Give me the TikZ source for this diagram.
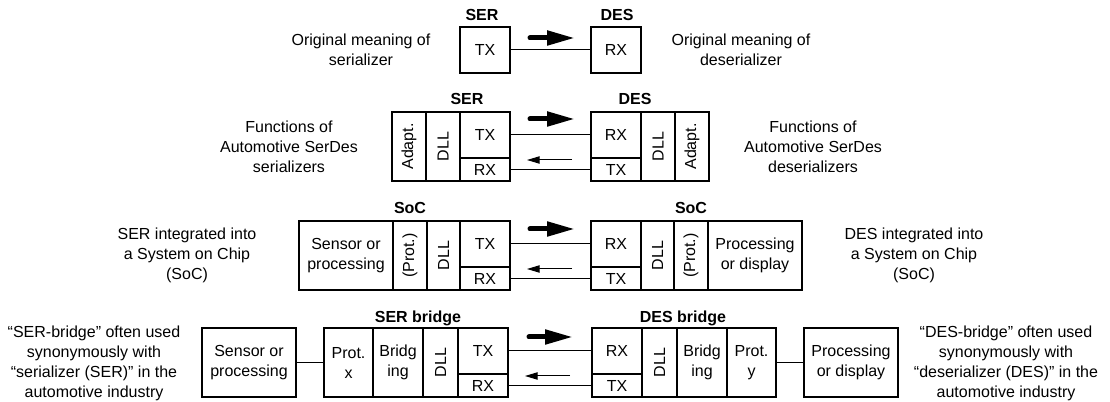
\documentclass[tikz,border=0pt]{standalone}
\usepackage{fontspec}
\setmainfont{Liberation Sans}
\usepackage{tikz}
\usetikzlibrary{arrows.meta, positioning, calc}
\newlength{\pxu}
\setlength{\pxu}{0.75pt}
\newcommand{\diagfont}{\fontsize{12}{15}\selectfont}
\tikzset{
  cell/.style={rectangle, draw=black, line width=1.5pt, inner sep=0pt,
    outer sep=0pt, align=center, font=\diagfont},
  tall/.style={cell, minimum height=69\pxu},
  upper/.style={cell, minimum width=50\pxu, minimum height=46\pxu},
  lower/.style={cell, minimum width=50\pxu, minimum height=23\pxu},
  tag/.style={font=\diagfont\bfseries, inner sep=0pt, text depth=0pt},
  note/.style={align=center, font=\diagfont, inner sep=0pt},
  link/.style={line width=0.75pt, color=black},
  bigarrow/.style={-{Triangle[length=21pt, width=10.5pt]}, line width=3.75pt, line cap=round},
  smallarrow/.style={-{Triangle[length=9.5pt, width=5.5pt]}, line width=0.75pt}
}
\begin{document}
\begin{tikzpicture}[x=\pxu, y=-\pxu]
  \useasboundingbox (0,0) rectangle (1110,402);

  % Row 1: original meaning
  \node[upper, anchor=north west] (tx1) at (460,27) {TX};
  \node[upper, anchor=north west] (rx1) at (591,27) {RX};
  \node[tag] (ser1) at (482,15) {SER};
  \node[tag] (des1) at (617,15) {DES};
  \draw[link] (tx1.east) -- (rx1.west);
  \draw[bigarrow] ($(tx1.north east)+(20,11)$) -- ($(rx1.north west)+(-16,11)$);
  \node[note] (txt1a) at (361,50) {Original meaning of\\serializer};
  \node[note] (txt1b) at (741,50) {Original meaning of\\deserializer};

  % Row 2: automotive SerDes functions
  \node[tall, minimum width=34\pxu, anchor=north west] (adapt2a) at (392,112) {\rotatebox{90}{Adapt.}};
  \node[tall, minimum width=34\pxu, right=0pt of adapt2a] (dll2a) {\rotatebox{90}{DLL}};
  \node[upper, anchor=north west] (tx2a) at (dll2a.north east) {TX};
  \node[lower, below=0pt of tx2a] (rx2a) {RX};
  \node[upper, anchor=north west] (rx2b) at (591,112) {RX};
  \node[lower, below=0pt of rx2b] (tx2b) {TX};
  \node[tall, minimum width=34\pxu, anchor=north west] (dll2b) at (rx2b.north east) {\rotatebox{90}{DLL}};
  \node[tall, minimum width=34\pxu, right=0pt of dll2b] (adapt2b) {\rotatebox{90}{Adapt.}};
  \node[tag] (ser2) at (467,99) {SER};
  \node[tag] (des2) at (635,99) {DES};
  \draw[link] (tx2a.east) -- (rx2b.west);
  \draw[link] (rx2a.east) -- (tx2b.west);
  \draw[bigarrow] ($(tx2a.north east)+(20,7)$) -- ($(rx2b.north west)+(-16,7)$);
  \draw[smallarrow] ($(rx2a.north east)+(62,2)$) -- ($(rx2a.north east)+(17,2)$);
  \node[note] (txt2a) at (289,147) {Functions of\\Automotive SerDes\\serializers};
  \node[note] (txt2b) at (813,147) {Functions of\\Automotive SerDes\\deserializers};

  % Row 3: integrated into SoC
  \node[tall, minimum width=94\pxu, anchor=north west] (sensor3) at (299,221) {Sensor or\\processing};
  \node[tall, minimum width=34\pxu, right=0pt of sensor3] (prot3a) {\rotatebox{90}{(Prot.)}};
  \node[tall, minimum width=33\pxu, right=0pt of prot3a] (dll3a) {\rotatebox{90}{DLL}};
  \node[upper, anchor=north west] (tx3a) at (dll3a.north east) {TX};
  \node[lower, below=0pt of tx3a] (rx3a) {RX};
  \node[upper, anchor=north west] (rx3b) at (591,221) {RX};
  \node[lower, below=0pt of rx3b] (tx3b) {TX};
  \node[tall, minimum width=33\pxu, anchor=north west] (dll3b) at (rx3b.north east) {\rotatebox{90}{DLL}};
  \node[tall, minimum width=34\pxu, right=0pt of dll3b] (prot3b) {\rotatebox{90}{(Prot.)}};
  \node[tall, minimum width=94\pxu, right=0pt of prot3b] (proc3) {Processing\\or display};
  \node[tag] (soc3a) at (410,208) {SoC};
  \node[tag] (soc3b) at (691,208) {SoC};
  \draw[link] (tx3a.east) -- (rx3b.west);
  \draw[link] (rx3a.east) -- (tx3b.west);
  \draw[bigarrow] ($(tx3a.north east)+(20,8)$) -- ($(rx3b.north west)+(-16,8)$);
  \draw[smallarrow] ($(rx3a.north east)+(62,2)$) -- ($(rx3a.north east)+(17,2)$);
  \node[note] (txt3a) at (187,255) {SER integrated into\\a System on Chip\\(SoC)};
  \node[note] (txt3b) at (914,255) {DES integrated into\\a System on Chip\\(SoC)};

  % Row 4: bridges
  \node[tall, minimum width=94\pxu, anchor=north west] (sensor4) at (202,328) {Sensor or\\processing};
  \node[tall, minimum width=49\pxu, anchor=north west] (protx) at (324,328) {Prot.\\x};
  \node[tall, minimum width=50\pxu, right=0pt of protx] (bridg4a) {Bridg\\ing};
  \node[tall, minimum width=35\pxu, right=0pt of bridg4a] (dll4a) {\rotatebox{90}{DLL}};
  \node[upper, anchor=north west] (tx4a) at (dll4a.north east) {TX};
  \node[lower, below=0pt of tx4a] (rx4a) {RX};
  \node[upper, anchor=north west] (rx4b) at (592,328) {RX};
  \node[lower, below=0pt of rx4b] (tx4b) {TX};
  \node[tall, minimum width=35\pxu, anchor=north west] (dll4b) at (rx4b.north east) {\rotatebox{90}{DLL}};
  \node[tall, minimum width=50\pxu, right=0pt of dll4b] (bridg4b) {Bridg\\ing};
  \node[tall, minimum width=49\pxu, right=0pt of bridg4b] (proty) {Prot.\\y};
  \node[tall, minimum width=94\pxu, anchor=north west] (proc4) at (804,328) {Processing\\or display};
  \node[tag] (serb4) at (418,317) {SER bridge};
  \node[tag] (desb4) at (683,317) {DES bridge};
  \draw[link] (sensor4.east) -- (protx.west);
  \draw[link] (proty.east) -- (proc4.west);
  \draw[link] (tx4a.east) -- (rx4b.west);
  \draw[link] (rx4a.east) -- (tx4b.west);
  \draw[bigarrow] ($(tx4a.north east)+(21,9)$) -- ($(rx4b.north west)+(-19,9)$);
  \draw[smallarrow] ($(rx4a.north east)+(62,2)$) -- ($(rx4a.north east)+(17,2)$);
  \node[note] (txt4a) at (94,363) {“SER-bridge” often used\\synonymously with\\“serializer (SER)” in the\\automotive industry};
  \node[note] (txt4b) at (1006,363) {“DES-bridge” often used\\synonymously with\\“deserializer (DES)” in the\\automotive industry};
\end{tikzpicture}
\end{document}
